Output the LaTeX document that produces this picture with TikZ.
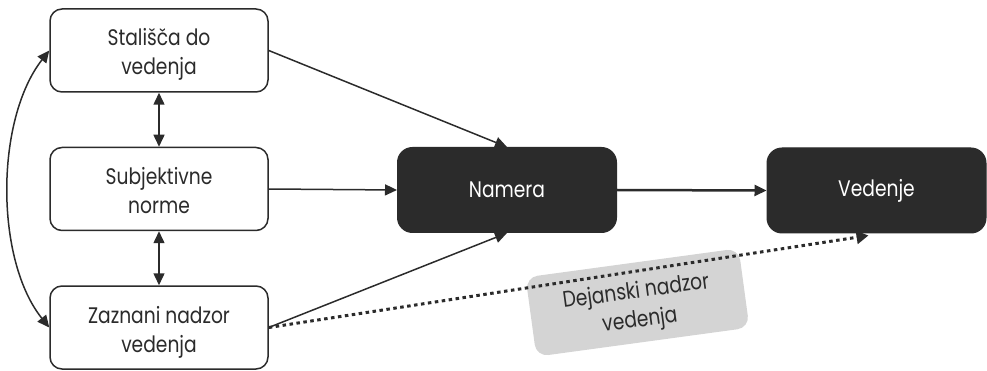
\documentclass[tikz,border=0pt]{standalone}
\usepackage{fontspec}
\setmainfont{Poppins}[FakeStretch=0.83]
\usetikzlibrary{arrows.meta,calc}
\definecolor{ink}{HTML}{2B2B2B}
\definecolor{labelgray}{HTML}{D4D4D4}
\tikzset{
  twolines/.style={text height=55pt, text depth=6pt},
  lightbox/.style={draw=ink, line width=1.5pt, fill=white, rounded corners=12pt,
    minimum width=218pt, minimum height=83pt, inner sep=0pt, align=center,
    text=ink, font=\fontsize{22.5}{29}\selectfont, twolines},
  darkbox/.style={draw=ink, line width=1pt, fill=ink, rounded corners=15pt,
    minimum width=219pt, minimum height=85pt, inner sep=0pt, align=center,
    text=white, font=\fontsize{22.5}{29}\selectfont},
  graylabel/.style={fill=labelgray, rounded corners=12pt,
    minimum width=215pt, minimum height=80pt, inner sep=0pt, align=center,
    text=ink, font=\fontsize{22.5}{29}\selectfont, twolines},
  tip/.style={-{Triangle[length=12pt,width=11pt]}},
  bitip/.style={{Triangle[length=12pt,width=11pt]}-{Triangle[length=12pt,width=11pt]}},
  conn/.style={draw=ink, line width=1.5pt},
  dotconn/.style={draw=ink, line width=3pt, dash pattern=on 3.5pt off 3.5pt}
}
\begin{document}
\begin{tikzpicture}[x=1pt,y=-1pt]
\useasboundingbox (0,0) rectangle (987,371);
\node[lightbox] (A) at (159,50.5) {Stališča do\\vedenja};
\node[lightbox] (B) at (159,189) {Subjektivne\\norme};
\node[lightbox] (C) at (159,327.5) {Zaznani nadzor\\vedenja};
\node[darkbox] (N) at (507,190) {Namera};
\node[darkbox] (V) at (876.5,190.5) {Vedenje};
\node[graylabel, rotate=7.75] (L) at (637.5,302.5) {Dejanski nadzor\\vedenja};
\coordinate (Vin) at ($(V.south)+(-8,2)$);
\draw[conn, tip] (A.east) -- (N.north);
\draw[conn, tip] (B.east) -- (N.west);
\draw[conn, tip] (C.east) -- (N.south);
\draw[conn, line width=2.5pt, tip] (N.east) -- (V.west);
\draw[conn, bitip] (A.south) -- (B.north);
\draw[conn, bitip] (B.south) -- (C.north);
\draw[conn, bitip] (A.west) .. controls (-5,120) and (-5,260) .. (C.west);
\draw[dotconn, -{Triangle[length=12pt,width=13pt]}] (C.east) -- (Vin);
\end{tikzpicture}
\end{document}
